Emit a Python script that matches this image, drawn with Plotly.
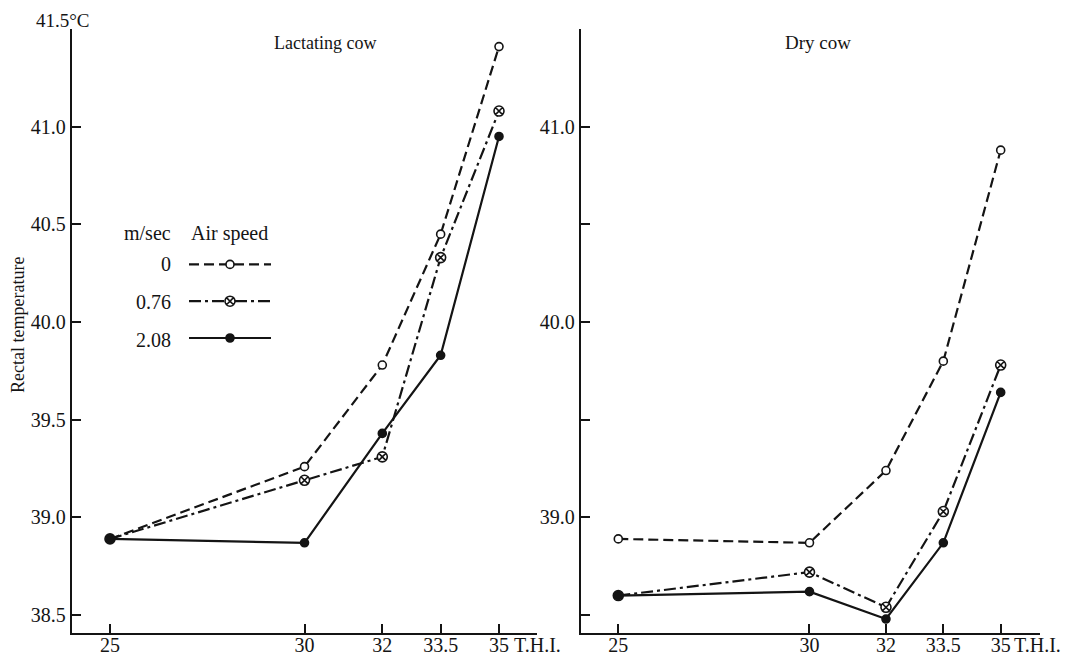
import plotly.graph_objects as go

# ---------------- data ----------------
thi = [25, 30, 32, 33.5, 35]
thi_labels = ["25", "30", "32", "33.5", "35"]
speeds = ["0", "0.76", "2.08"]

lact_0 = [38.89, 39.26, 39.78, 40.45, 41.41]
lact_076 = [38.89, 39.19, 39.31, 40.33, 41.08]
lact_208 = [38.89, 38.87, 39.43, 39.83, 40.95]

dry_0 = [38.89, 38.87, 39.24, 39.80, 40.88]
dry_076 = [38.60, 38.72, 38.54, 39.03, 39.78]
dry_208 = [38.60, 38.62, 38.48, 38.87, 39.64]

y_ticks = [38.5, 39.0, 39.5, 40.0, 40.5, 41.0]
left_y_labels = ["38.5", "39.0", "39.5", "40.0", "40.5", "41.0"]
right_y_labels = ["", "39.0", "", "40.0", "", "41.0"]

# ---------------- styling ----------------
W, H = 1089, 657
OFF = 8  # default page body margin
INK = "#141414"
FONT = "Liberation Serif"


def px_x(p):
    return (p - OFF) / W


def px_y(p):
    return 1 - (p - OFF) / H


styles = {
    "0": dict(dash="10px,5px", symbol="circle", size=8, fill="white"),
    "0.76": dict(dash="12px,4px,3px,4px", symbol="circle-x", size=10, fill="white"),
    "2.08": dict(dash="solid", symbol="circle", size=8, fill=INK),
}

fig = go.Figure()

panels = [
    ("x", "y", [lact_0, lact_076, lact_208], True),
    ("x2", "y2", [dry_0, dry_076, dry_208], False),
]
for xa, ya, series, show in panels:
    for sp, vals in zip(speeds, series):
        st = styles[sp]
        fig.add_trace(go.Scatter(
            x=thi, y=vals, xaxis=xa, yaxis=ya,
            mode="lines+markers",
            name="\u00a0",
            showlegend=show,
            line=dict(color=INK, width=2.2, dash=st["dash"]),
            marker=dict(symbol=st["symbol"], size=st["size"], color=st["fill"],
                        line=dict(color=INK, width=1.6)),
            cliponaxis=False,
        ))

y_dom = [px_y(632.5), px_y(29)]
axis_common = dict(
    showgrid=False, zeroline=False, showline=True, linecolor=INK, linewidth=2,
    ticks="inside", ticklen=9, tickwidth=1.5, tickcolor=INK,
    tickfont=dict(family=FONT, size=20, color=INK), automargin=False,
)

fig.update_layout(
    width=W, height=H,
    margin=dict(l=0, r=0, t=0, b=0),
    paper_bgcolor="white", plot_bgcolor="white",
    xaxis=dict(domain=[px_x(71.7), px_x(537)], range=[24.015, 35.977],
               tickvals=thi, ticktext=thi_labels, anchor="y",
               ticklabelstandoff=-7, **axis_common),
    yaxis=dict(domain=y_dom, range=[38.411, 41.5], tickvals=y_ticks,
               ticktext=left_y_labels, anchor="x", **axis_common),
    xaxis2=dict(domain=[px_x(580.7), px_x(1040)], range=[24.017, 36.028],
                tickvals=thi, ticktext=thi_labels, anchor="y2",
                ticklabelstandoff=-7, **axis_common),
    yaxis2=dict(domain=y_dom, range=[38.411, 41.5], tickvals=y_ticks,
                ticktext=right_y_labels, anchor="x2", **axis_common),
    showlegend=True,
    legend=dict(x=px_x(184), y=px_y(241), xanchor="left", yanchor="top",
                bgcolor="rgba(0,0,0,0)", borderwidth=0, itemwidth=82,
                font=dict(family=FONT, size=26, color=INK)),
)

ann_font = dict(family=FONT, size=20, color=INK)
annotations = [
    dict(text="41.5°C", x=px_x(63), y=1.0, xanchor="center", yanchor="top",
         font=dict(family=FONT, size=19, color=INK)),
    dict(text="Lactating cow", x=px_x(325), y=px_y(43), xanchor="center", yanchor="middle",
         font=dict(family=FONT, size=18, color=INK)),
    dict(text="Dry cow", x=px_x(818), y=px_y(43), xanchor="center", yanchor="middle",
         font=dict(family=FONT, size=19, color=INK)),
    dict(text="Rectal temperature", x=px_x(18), y=px_y(325), xanchor="center",
         yanchor="middle", textangle=-90, font=dict(family=FONT, size=18, color=INK)),
    dict(text="T.H.I.", x=px_x(512), y=px_y(645), xanchor="left", yanchor="middle"),
    dict(text="T.H.I.", x=px_x(1012), y=px_y(645), xanchor="left", yanchor="middle"),
    dict(text="m/sec", x=px_x(147), y=px_y(233), xanchor="center", yanchor="middle"),
    dict(text="Air speed", x=px_x(229), y=px_y(233), xanchor="center", yanchor="middle"),
]
for sp, yy in zip(speeds, [264, 302, 340]):
    annotations.append(dict(text=sp, x=px_x(173), y=px_y(yy), xanchor="right", yanchor="middle"))

for a in annotations:
    a.setdefault("font", ann_font)
    a.update(xref="paper", yref="paper", showarrow=False)
fig.update_layout(annotations=annotations)

fig.write_html("out.html")
